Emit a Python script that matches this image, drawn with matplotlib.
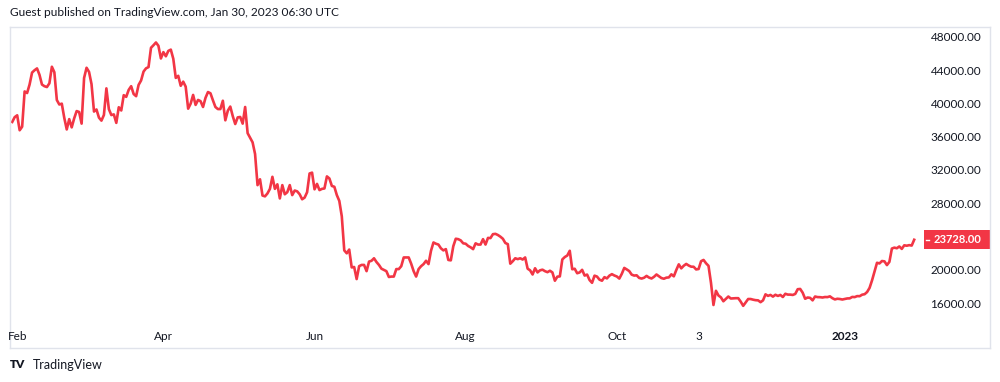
import numpy as np
import pandas as pd
import matplotlib
matplotlib.use('Agg')
import matplotlib.pyplot as plt
import matplotlib.transforms as mtransforms
from matplotlib.patches import Rectangle

plt.rcParams['font.family'] = ['Lato', 'DejaVu Sans']

# daily closes (BTC/USD), 2022-01-30 .. 2023-01-29
jan22 = [37900, 38480]
feb22 = [38700, 36900, 37330, 41570, 41380, 42400, 43840, 44120, 44340, 43570,
         42400, 42200, 42100, 42550, 44540, 43880, 40540, 40000, 40100, 38400,
         37000, 38240, 37250, 38330, 39210, 39100, 37700, 43190]
mar22 = [44420, 43920, 42450, 39150, 39400, 38420, 38060, 38740, 41940, 39440,
         38730, 38810, 37790, 39670, 39280, 41120, 40920, 41760, 42200, 41260,
         41000, 42360, 42890, 43960, 44350, 44500, 46820, 47130, 47460, 47060, 45540]
apr22 = [46300, 45800, 46450, 46600, 45500, 43200, 43450, 42250, 42750, 42150,
         39500, 40100, 41150, 39950, 40550, 40400, 39700, 40800, 41500, 41350,
         40500, 39700, 39450, 39450, 40450, 38100, 39250, 39750, 38600, 37650]
may22 = [38450, 38500, 37700, 39700, 36550, 36000, 35450, 34050, 30300, 31000,
         29050, 28950, 29300, 29850, 31300, 29850, 30400, 28700, 30300, 29200,
         29450, 30300, 29100, 29650, 29550, 29200, 28600, 28800, 29450, 31700, 31800]
jun22 = [29800, 30450, 29700, 29850, 29900, 31350, 31100, 30200, 30100, 29100,
         28400, 26550, 22450, 22100, 22550, 20400, 20450, 19000, 20550, 20700,
         20700, 19950, 21100, 21200, 21500, 21050, 20700, 20250, 20100, 19950]
jul22 = [19250, 19300, 19300, 20200, 20200, 20550, 21600, 21600, 21600, 20850,
         19950, 19300, 20200, 20550, 20800, 21200, 20800, 22400, 23400, 23250,
         23150, 22700, 22450, 22600, 21300, 21250, 22950, 23850, 23800, 23650, 23300]
aug22 = [23250, 22980, 22820, 22600, 23300, 23150, 23150, 23800, 23150, 23950,
         23930, 24400, 24440, 24300, 24100, 23850, 23340, 23200, 20850, 21150,
         21500, 21400, 21500, 21350, 21600, 20250, 20050, 19550, 20300, 19800, 20050]
sep22 = [20130, 19950, 19830, 20000, 19800, 18800, 19290, 19320, 21360, 21650,
         21830, 22400, 20180, 20240, 19700, 19800, 20110, 19420, 19540, 18880,
         18550, 19410, 19300, 18930, 18800, 19230, 19080, 19410, 19590, 19430]
oct22 = [19310, 19060, 19630, 20340, 20160, 19960, 19530, 19420, 19450, 19140,
         19060, 19160, 19380, 19180, 19070, 19270, 19550, 19330, 19120, 19040,
         19170, 19200, 19570, 19330, 20090, 20770, 20290, 20600, 20820, 20630, 20490]
nov22 = [20480, 20160, 20210, 21150, 21300, 20900, 20590, 18540, 15880, 17590,
         17030, 16800, 16330, 16620, 16900, 16660, 16680, 16700, 16700, 16280,
         15780, 16200, 16600, 16600, 16520, 16460, 16440, 16220, 16440, 17160]
dec22 = [16980, 17090, 16890, 17110, 16970, 17090, 16840, 17230, 17130, 17130,
         17090, 17210, 17780, 17810, 17360, 16630, 16780, 16740, 16440, 16900,
         16830, 16820, 16780, 16840, 16830, 16920, 16700, 16550, 16630, 16600, 16540]
jan23 = [16610, 16670, 16680, 16850, 16830, 16950, 16940, 17120, 17180, 17440,
         17940, 18850, 19930, 20960, 20880, 21170, 21130, 20680, 21070, 22670,
         22780, 22710, 22920, 22630, 23060, 23010, 23080, 23030, 23728]

price_ticks = [16000, 20000, 28000, 32000, 36000, 40000, 44000, 48000]
time_ticks = ['2022-02-01', '2022-04-01', '2022-06-01', '2022-08-01',
              '2022-10-01', '2022-11-03', '2023-01-01']
time_labels = ['Feb', 'Apr', 'Jun', 'Aug', 'Oct', '3', '2023']
last_price = 23728.00

RED = '#F23645'
TXT = '#131722'
BORDER = '#E0E3EB'

closes = np.array(jan22 + feb22 + mar22 + apr22 + may22 + jun22 + jul22 +
                  aug22 + sep22 + oct22 + nov22 + dec22 + jan23, dtype=float)
dates = pd.date_range('2022-01-30', periods=len(closes), freq='D')

fig = plt.figure(figsize=(10, 3.82), dpi=100)
fig.patch.set_facecolor('white')

# panel: x 10..990 px, y 27..348 px
ax = fig.add_axes([0.010, 34 / 382, 0.980, 321 / 382])
ax.plot(dates, closes, color=RED, linewidth=1.9, solid_joinstyle='round')

base = pd.Timestamp('2022-02-01')
ax.set_xlim(base - pd.Timedelta(days=2.9), base + pd.Timedelta(days=392.6))
ax.set_ylim(10707, 49323)
ax.set_xticks([])
ax.set_yticks([])
for sp in ax.spines.values():
    sp.set_color(BORDER)
    sp.set_linewidth(1.0)

# price scale labels (inside the panel, right aligned)
ytr = mtransforms.blended_transform_factory(ax.transAxes, ax.transData)
for p in price_ticks:
    ax.text(0.991, p, f'{p:.2f}', transform=ytr, ha='right', va='center',
            fontsize=8.5, color=TXT)

# last price marker
ax.add_patch(Rectangle((0.9327, last_price - 1150), 1 - 0.9327, 2300,
                       transform=ytr, facecolor=RED, edgecolor='none', clip_on=False))
ax.plot([0.9347, 0.9378], [last_price, last_price], transform=ytr,
        color='white', linewidth=1.0, clip_on=False)
ax.text(0.991, last_price, f'{last_price:.2f}', transform=ytr, ha='right',
        va='center', fontsize=8.0, color='white', fontweight='bold')

# time scale labels
xtr = mtransforms.blended_transform_factory(ax.transData, ax.transAxes)
for t, lab in zip(time_ticks, time_labels):
    ax.text(pd.Timestamp(t), 0.037, lab, transform=xtr, ha='center', va='center',
            fontsize=8.5, color=TXT, fontweight='bold' if lab == '2023' else 'normal')

fig.text(0.010, 1 - 12 / 382, 'Guest published on TradingView.com, Jan 30, 2023 06:30 UTC',
         ha='left', va='center', fontsize=8.6, color=TXT)
fig.text(0.010, 1 - 365 / 382, 'TV', ha='left', va='center', fontsize=8.5,
         color=TXT, fontweight='heavy')
fig.text(0.033, 1 - 365 / 382, 'TradingView', ha='left', va='center',
         fontsize=9, color=TXT)

fig.savefig('out.png', dpi=100, facecolor='white')
